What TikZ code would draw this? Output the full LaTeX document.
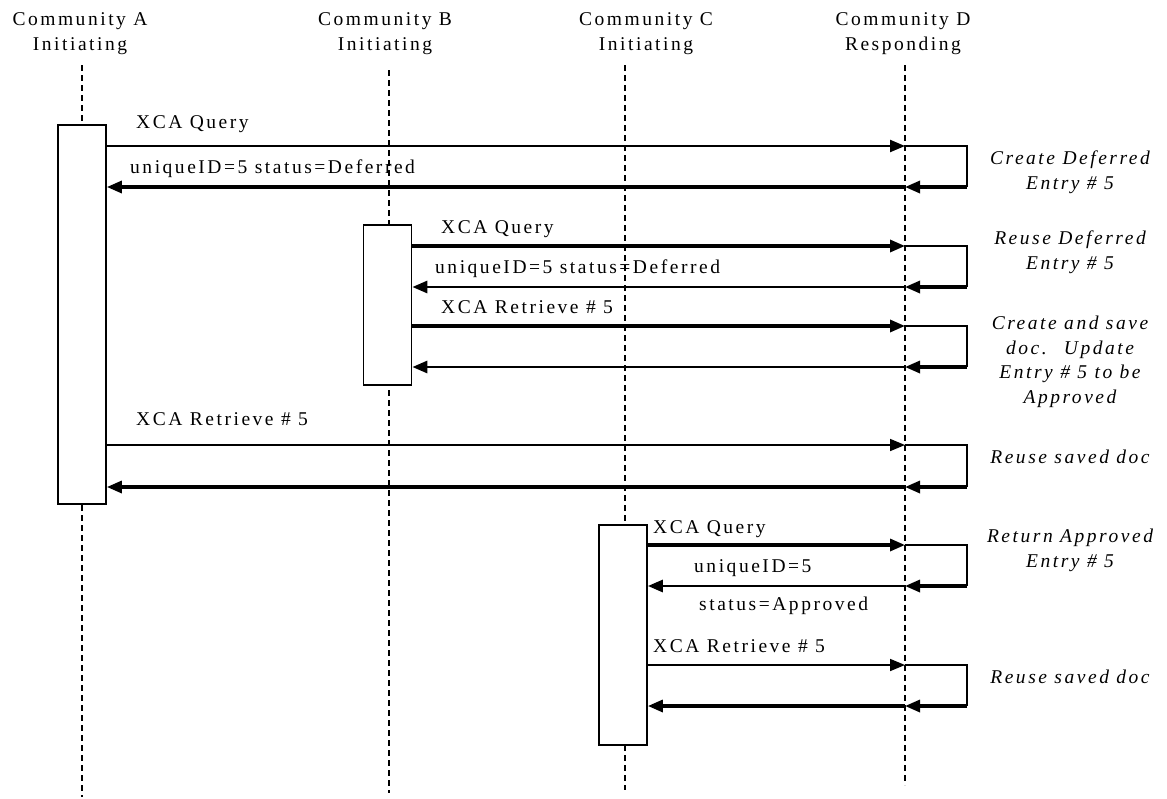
\documentclass[tikz,border=0pt]{standalone}
\usepackage{fontspec}
\setmainfont{Liberation Serif}[LetterSpace=13]
\usepackage{tikz}
\usetikzlibrary{arrows.meta,calc,positioning}

\tikzset{
  lifeline/.style={dash pattern=on 6pt off 4pt, line width=2.1pt},
  actbox/.style={draw, line width=1.7pt, fill=white, minimum width=48pt, inner sep=0pt},
  msg/.style={-{Triangle[length=15pt,width=12pt]}},
  loopln/.style={line width=1.9pt},
  lbl/.style={anchor=base west, inner sep=0pt},
  head/.style={align=center, anchor=base, inner sep=0pt},
  note/.style={align=center, anchor=base, inner sep=0pt, font=\fontsize{19.5}{24.5}\selectfont\itshape},
}

\begin{document}
\begin{tikzpicture}[x=1pt,y=-1pt,every node/.style={font=\fontsize{19.5}{24.5}\selectfont}]
\useasboundingbox (0,0) rectangle (1167,798);
% headers (base = last line)
\node[head] (hA) at (80,50) {Community A\\Initiating};
\node[head] (hB) at (385,50) {Community B\\Initiating};
\node[head] (hC) at (646,50) {Community C\\Initiating};
\node[head] (hD) at (903,50) {Community D\\Responding};
% lifelines
\draw[lifeline] (82,65) -- (82,797);
\draw[lifeline] (389,70) -- (389,793);
\draw[lifeline] (625,65) -- (625,790);
\draw[lifeline] (905,65) -- (905,785);
% activation boxes
\node[actbox, minimum height=379pt] (bA) at (82,314.5) {};
\node[actbox, minimum height=160pt] (bB) at (387.5,305) {};
\node[actbox, minimum height=220pt] (bC) at (623,635) {};
% messages: request, self loop on D, response
\foreach \nm/\bx/\yq/\yr/\wq/\wr in {1/bA/146/187/2.3/3.2, 2/bB/246/287/3.2/2.8, 3/bB/326/367/3.2/2.8,
    4/bA/445/487/1.6/3.2, 5/bC/545/586/3.2/2.8, 6/bC/665/706/1.6/3.2}{
  \coordinate (q\nm) at (\bx.east |- 0,\yq);
  \coordinate (r\nm) at (\bx.east |- 0,\yr);
  \coordinate (dq\nm) at (905,\yq);
  \coordinate (dr\nm) at (905,\yr);
  \coordinate (k\nm) at (967,\yr);
  \draw[msg, line width=\wq pt] (q\nm) -- (dq\nm);
  \draw[loopln] (dq\nm) -| (k\nm);
  \draw[msg, line width=3.2pt] (k\nm) -- (dr\nm);
  \draw[msg, line width=\wr pt] (dr\nm) -- (r\nm);
}
% message labels
\node[lbl] (lq1) at (136,128) {XCA Query};
\node[lbl] (lr1) at (130,173) {uniqueID=5 status=Deferred};
\node[lbl] (lq2) at (441,233) {XCA Query};
\node[lbl] (lr2) at (435,273) {uniqueID=5 status=Deferred};
\node[lbl] (lq3) at (441,313) {XCA Retrieve \# 5};
\node[lbl] (lq4) at (136,425) {XCA Retrieve \# 5};
\node[lbl] (lq5) at (653,533) {XCA Query};
\node[lbl] (lr5) at (694,572) {uniqueID=5};
\node[lbl] (ls5) at (699,610) {status=Approved};
\node[lbl] (lq6) at (653,652) {XCA Retrieve \# 5};
% notes on D (base = last line)
\node[note] (n1) at (1070,189) {Create Deferred\\Entry \# 5};
\node[note] (n2) at (1070,269) {Reuse Deferred\\Entry \# 5};
\node[note] (n3) at (1070,403) {Create and save\\doc.~ Update\\Entry \# 5 to be\\Approved};
\node[note] (n4) at (1070,463) {Reuse saved doc};
\node[note] (n5) at (1070,567) {Return Approved\\Entry \# 5};
\node[note] (n6) at (1070,683) {Reuse saved doc};
\end{tikzpicture}
\end{document}
